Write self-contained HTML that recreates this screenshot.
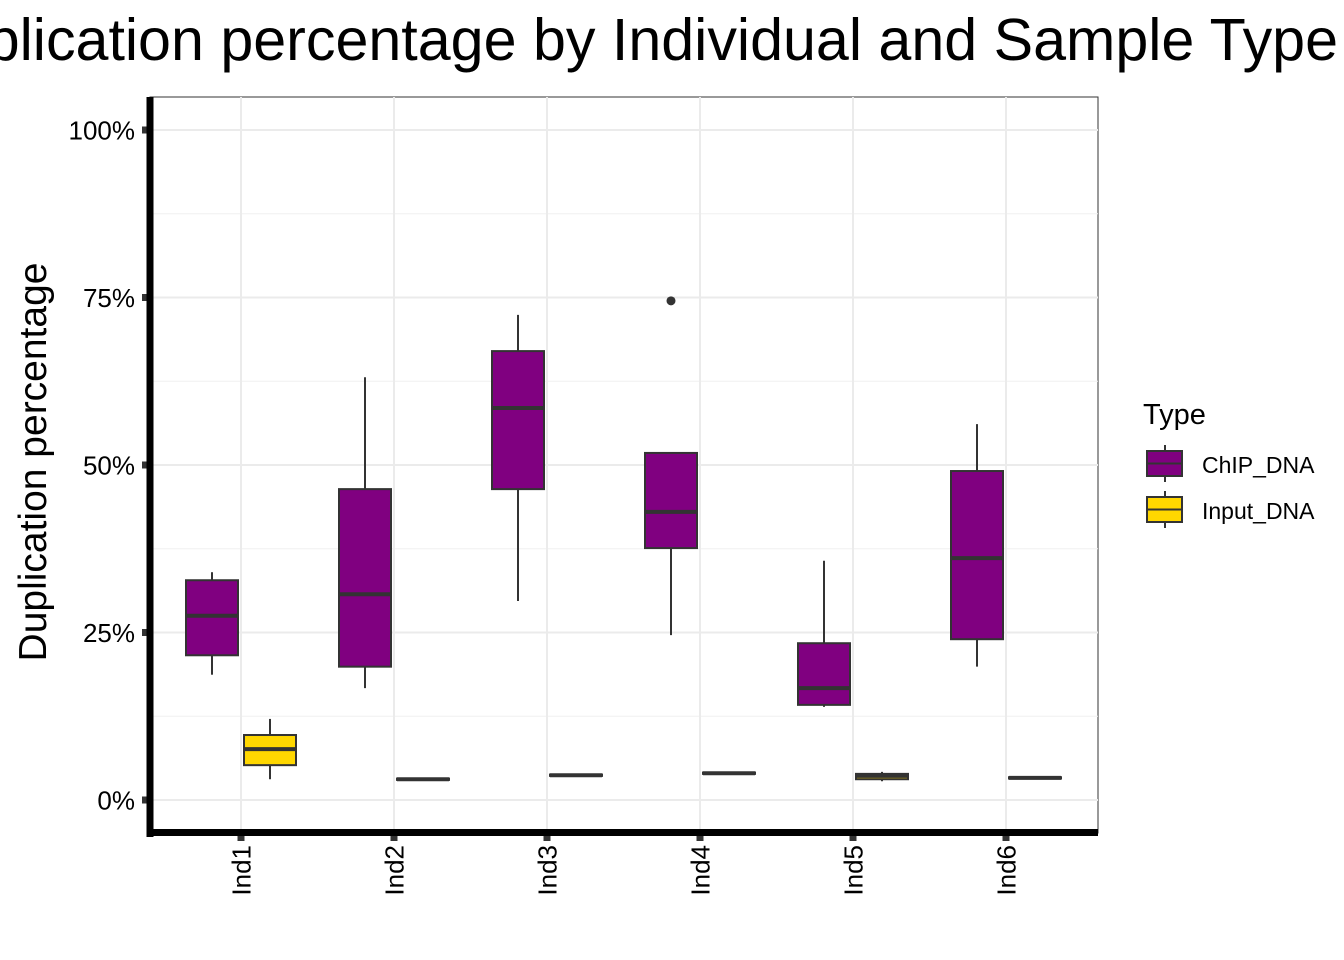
<!DOCTYPE html>
<html><head><meta charset="utf-8"><style>body{margin:0;background:#fff}svg{display:block;font-family:"Liberation Sans",Arial,sans-serif}</style></head>
<body>
<svg id="chart" width="1344" height="960">
<text x="1338" y="60" font-size="59.2" text-anchor="end">Duplication percentage by Individual and Sample Type</text>
<g id="grid"></g>
<g id="marks"></g>
<g id="axes"></g>
<text transform="translate(46,462) rotate(-90)" font-size="39" text-anchor="middle">Duplication percentage</text>
<g>
<text x="1143" y="424" font-size="29">Type</text>
<g>
<line x1="1165" y1="445" x2="1165" y2="482" stroke="#333" stroke-width="2"/>
<rect x="1147" y="451" width="35" height="25" fill="#800080" stroke="#333" stroke-width="2"/>
<line x1="1147" y1="463.5" x2="1182" y2="463.5" stroke="#333" stroke-width="2"/>
<text x="1202" y="473" font-size="23">ChIP_DNA</text></g>
<g>
<line x1="1165" y1="491" x2="1165" y2="528" stroke="#333" stroke-width="2"/>
<rect x="1147" y="497" width="35" height="25" fill="#FFD700" stroke="#333" stroke-width="2"/>
<line x1="1147" y1="509.5" x2="1182" y2="509.5" stroke="#333" stroke-width="2"/>
<text x="1202" y="519" font-size="23">Input_DNA</text></g>
</g>
</svg>
<script>
const categories=["Ind1","Ind2","Ind3","Ind4","Ind5","Ind6"];
// [low, q1, median, q3, high]
const chipStats=[[18.7,21.6,27.5,32.8,34.0],[16.7,19.9,30.7,46.4,63.1],[29.7,46.4,58.5,67.0,72.4],[24.6,37.6,43.0,51.8,51.8],[13.9,14.2,16.7,23.4,35.7],[19.9,24.0,36.1,49.1,56.1]];
const inputStats=[[3.1,5.2,7.6,9.7,12.1],[2.9,3.0,3.1,3.2,3.3],[3.5,3.6,3.7,3.8,3.9],[3.8,3.9,4.0,4.1,4.2],[2.8,3.1,3.6,3.9,4.2],[3.1,3.2,3.3,3.4,3.5]];
const chipOutliers=[[],[],[],[74.5],[],[]];
const yTicks=[0,25,50,75,100];
const yTickLabels=["0%","25%","50%","75%","100%"];
const ns="http://www.w3.org/2000/svg";
const L=150,R=1098,T=97,B=833;
const y=v=>800-v*6.7;
const x=i=>241+i*153;
function mk(tag,attrs,parent){const e=document.createElementNS(ns,tag);for(const k in attrs)e.setAttribute(k,attrs[k]);parent.appendChild(e);return e;}
const grid=document.getElementById('grid'),marks=document.getElementById('marks'),axes=document.getElementById('axes');
mk('rect',{x:L,y:T,width:R-L,height:B-T,fill:'#fff',stroke:'#333','stroke-width':1},grid);
for(let k=0;k<yTicks.length-1;k++){const v=(yTicks[k]+yTicks[k+1])/2;const l=mk('line',{x1:L,x2:R,y1:y(v),y2:y(v),stroke:'#f0f0f0','stroke-width':1},grid);

}
yTicks.forEach((v,k)=>{const l=mk('line',{x1:L,x2:R,y1:y(v),y2:y(v),stroke:'#ebebeb','stroke-width':2},grid);


const t=mk('text',{x:135,y:y(v)+9.5,'font-size':26,'text-anchor':'end',fill:'#000'},axes);t.textContent=yTickLabels[k];


mk('rect',{x:142,y:y(v)-3.5,width:7,height:7,fill:'#333'},axes);});
categories.forEach((c,i)=>{const l=mk('line',{x1:x(i),x2:x(i),y1:T,y2:B,stroke:'#ebebeb','stroke-width':2},grid);


mk('rect',{x:x(i)-3.5,y:834,width:7,height:7,fill:'#333'},axes);
const t=mk('text',{transform:`translate(${x(i)+9.5},845) rotate(-90)`,'font-size':26,'text-anchor':'end',fill:'#000'},axes);t.textContent=c;

});
mk('line',{x1:150,x2:150,y1:T,y2:837,stroke:'#000','stroke-width':7},axes);
mk('line',{x1:147,x2:R,y1:832.5,y2:832.5,stroke:'#000','stroke-width':7},axes);
function box(s,cx,fill,name){const g=mk('g',{},marks);


mk('line',{x1:cx,x2:cx,y1:y(s[4]),y2:y(s[0]),stroke:'#333','stroke-width':2},g);
mk('rect',{x:cx-26,y:y(s[3]),width:52,height:Math.max(y(s[1])-y(s[3]),1),fill:fill,stroke:'#333','stroke-width':2},g);
mk('line',{x1:cx-26,x2:cx+26,y1:y(s[2]),y2:y(s[2]),stroke:'#333','stroke-width':4},g);return g;}
categories.forEach((c,i)=>{
const g=box(chipStats[i],x(i)-29,'#800080','box-chip-'+c.toLowerCase());
chipOutliers[i].forEach(v=>{const o=mk('circle',{cx:x(i)-29,cy:y(v),r:4.5,fill:'#333'},g);

});
box(inputStats[i],x(i)+29,'#FFD700','box-input-'+c.toLowerCase());});
</script>
</body></html>
